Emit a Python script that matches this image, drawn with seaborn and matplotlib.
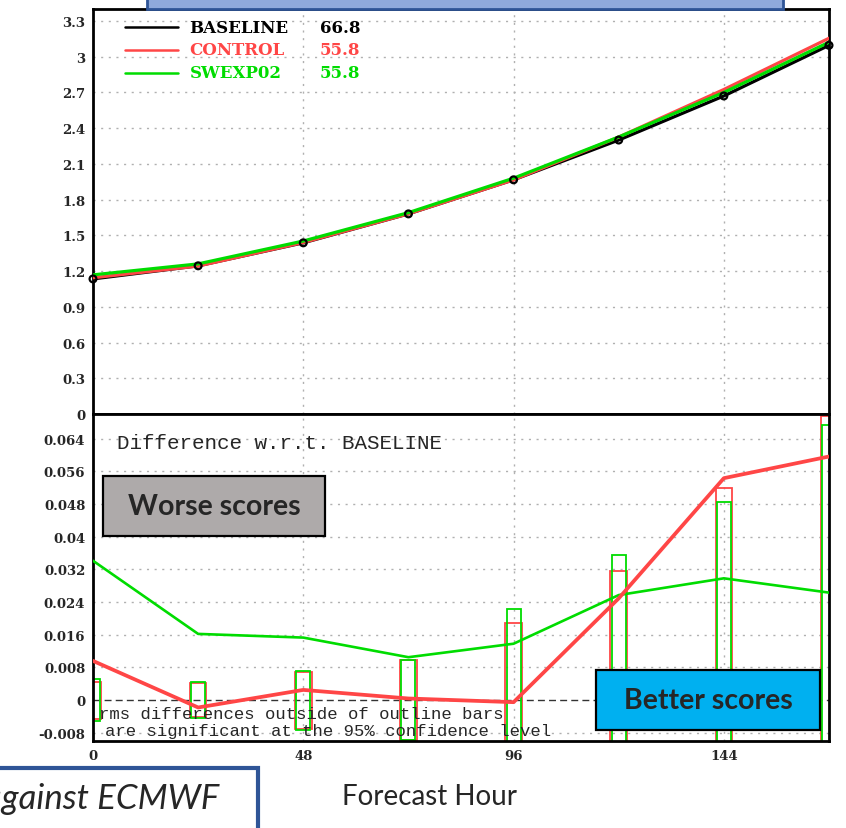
import matplotlib
matplotlib.use("Agg")
import matplotlib.pyplot as plt
import numpy as np
import pandas as pd
import seaborn as sns
from matplotlib.patches import Rectangle

# ---- data -------------------------------------------------------------
hours = [0, 24, 48, 72, 96, 120, 144, 168]
baseline_rms = [1.134, 1.244, 1.437, 1.680, 1.966, 2.300, 2.670, 3.095]
control_diff = [0.0096, -0.0018, 0.0025, 0.0004, -0.0005, 0.0249, 0.0543, 0.0596]
swexp02_diff = [0.0341, 0.0162, 0.0153, 0.0105, 0.0138, 0.0257, 0.0298, 0.0263]
control_sig = [0.0045, 0.0042, 0.0070, 0.0097, 0.0188, 0.0316, 0.0520, 0.0694]
swexp02_sig = [0.0052, 0.0044, 0.0072, 0.0097, 0.0222, 0.0354, 0.0485, 0.0673]

legend_names = ["BASELINE", "CONTROL", "SWEXP02"]
legend_scores = ["66.8", "55.8", "55.8"]

upper_ticks = [0, 0.3, 0.6, 0.9, 1.2, 1.5, 1.8, 2.1, 2.4, 2.7, 3.0, 3.3]
upper_tick_labels = ["0", "0.3", "0.6", "0.9", "1.2", "1.5", "1.8", "2.1",
                     "2.4", "2.7", "3", "3.3"]
lower_ticks = [-0.008, 0, 0.008, 0.016, 0.024, 0.032, 0.04, 0.048, 0.056, 0.064]
lower_tick_labels = ["-0.008", "0", "0.008", "0.016", "0.024", "0.032",
                     "0.04", "0.048", "0.056", "0.064"]
x_ticks = [0, 48, 96, 144]
x_tick_labels = ["0", "48", "96", "144"]

RED = "#ff4646"
GREEN = "#00dc00"
BLACK = "#000000"

# ---- frames -----------------------------------------------------------
control_rms = [b + d for b, d in zip(baseline_rms, control_diff)]
swexp02_rms = [b + d for b, d in zip(baseline_rms, swexp02_diff)]
rms = pd.DataFrame({
    "hour": hours * 3,
    "rms": baseline_rms + control_rms + swexp02_rms,
    "exp": [legend_names[0]] * 8 + [legend_names[1]] * 8 + [legend_names[2]] * 8,
})
diff = pd.DataFrame({
    "hour": hours * 2,
    "diff": control_diff + swexp02_diff,
    "exp": [legend_names[1]] * 8 + [legend_names[2]] * 8,
})

sns.set_theme(style="white")
W, H = 846, 829
fig = plt.figure(figsize=(W / 100, H / 100), dpi=100)

L, R = 93, 829
top_u, mid, bot_l = 10, 415, 742
ax_u = fig.add_axes([L / W, 1 - mid / H, (R - L) / W, (mid - top_u) / H])
ax_l = fig.add_axes([L / W, 1 - bot_l / H, (R - L) / W, (bot_l - mid) / H])

tick_font = dict(family="DejaVu Serif", weight="bold", size=9.5)
grid_kw = dict(color="#b0b0b0", linestyle=(0, (1.5, 4)), linewidth=1.0)

for ax in (ax_u, ax_l):
    ax.set_xlim(0, 168)
    for s in ax.spines.values():
        s.set_color("black")
        s.set_linewidth(2.0)
    ax.set_xticks(x_ticks)
    ax.tick_params(axis="both", direction="out", length=4, width=1.3,
                   color="black", pad=1.5)
    for x in x_ticks[1:]:
        ax.axvline(x, zorder=0, **grid_kw)

# ---- upper panel: RMS ---------------------------------------------------
ax_u.set_ylim(0, 3.4)
ax_u.set_yticks(upper_ticks)
ax_u.set_yticklabels(upper_tick_labels, **tick_font)
ax_u.set_xticklabels([])
ax_u.tick_params(axis="x", length=0)
for y in upper_ticks[1:]:
    ax_u.axhline(y, zorder=0, **grid_kw)

sns.lineplot(data=rms, x="hour", y="rms", hue="exp", ax=ax_u,
             palette=[BLACK, RED, GREEN], hue_order=legend_names,
             linewidth=2.3, legend=False, zorder=3)
sns.scatterplot(x=hours, y=baseline_rms, ax=ax_u, marker="o", s=24,
                facecolor="none", edgecolor=BLACK, linewidth=1.6, zorder=6,
                clip_on=False)
ax_u.set_xlabel("")
ax_u.set_ylabel("")

for i, (name, score, col) in enumerate(zip(legend_names, legend_scores,
                                           [BLACK, RED, GREEN])):
    yy = 0.955 - i * 0.056
    ax_u.plot([0.044, 0.116], [yy, yy], transform=ax_u.transAxes,
              color=col, linewidth=1.8, clip_on=False)
    ax_u.text(0.131, yy, name, transform=ax_u.transAxes, color=col,
              va="center", ha="left", family="DejaVu Serif",
              weight="bold", size=12)
    ax_u.text(0.308, yy, score, transform=ax_u.transAxes, color=col,
              va="center", ha="left", family="DejaVu Serif",
              weight="bold", size=12)

# ---- lower panel: differences -----------------------------------------
ax_l.set_ylim(-0.01, 0.07)
ax_l.set_yticks(lower_ticks)
ax_l.set_yticklabels(lower_tick_labels, **tick_font)
ax_l.set_xticklabels(x_tick_labels, **tick_font)
for y in lower_ticks:
    if y != 0:
        ax_l.axhline(y, zorder=0, **grid_kw)
ax_l.axhline(0, color="#333333", linestyle=(0, (5, 3)), linewidth=1.0, zorder=1)

ax_l.bar(hours, [2 * s for s in control_sig], bottom=[-s for s in control_sig],
         width=3.8, fill=False, edgecolor=RED, linewidth=1.3, zorder=2)
ax_l.bar(hours, [2 * s for s in swexp02_sig], bottom=[-s for s in swexp02_sig],
         width=3.2, fill=False, edgecolor=GREEN, linewidth=1.3, zorder=2)

sns.lineplot(data=diff[diff.exp == legend_names[2]], x="hour", y="diff",
             color=GREEN, linewidth=1.9, ax=ax_l, legend=False, zorder=3)
sns.lineplot(data=diff[diff.exp == legend_names[1]], x="hour", y="diff",
             color=RED, linewidth=2.7, ax=ax_l, legend=False, zorder=4)
ax_l.set_xlabel("")
ax_l.set_ylabel("")

ax_l.text(0.032, 0.913, "Difference w.r.t. BASELINE", transform=ax_l.transAxes,
          family="Liberation Mono", size=15, va="center", ha="left")
ax_l.text(0.008, 0.083, "rms differences outside of outline bars",
          transform=ax_l.transAxes, family="Liberation Mono", size=12.4,
          va="center", ha="left")
ax_l.text(0.016, 0.033, "are significant at the 95% confidence level",
          transform=ax_l.transAxes, family="Liberation Mono", size=12.4,
          va="center", ha="left")

# ---- annotation boxes ----------------------------------------------------
def px_rect(x0, y0, x1, y1, face, edge, lw):
    fig.patches.append(Rectangle((x0 / W, 1 - y1 / H), (x1 - x0) / W, (y1 - y0) / H,
                                 transform=fig.transFigure, facecolor=face,
                                 edgecolor=edge, linewidth=lw, zorder=10))

px_rect(147, -20, 783, 10, "#8faadc", "#2f5597", 2.0)
px_rect(103, 477, 325, 537, "#aeaaaa", "black", 1.6)
fig.text(214 / W, 1 - 507 / H, "Worse scores", ha="center", va="center",
         family="Lato", weight="bold", size=20.5, zorder=11)
px_rect(596, 671, 820, 731, "#00b0f0", "black", 1.6)
fig.text(708 / W, 1 - 701 / H, "Better scores", ha="center", va="center",
         family="Lato", weight="bold", size=20.5, zorder=11)
px_rect(-20, 769, 258, 850, "white", "#2f5597", 3.0)
fig.text(219 / W, 1 - 799 / H, "against ECMWF", ha="right", va="center",
         family="Lato", style="italic", size=25, zorder=11)
fig.text(430 / W, 1 - 797 / H, "Forecast Hour", ha="center", va="center",
         family="Lato", size=20)

fig.savefig("out.png", dpi=100)
